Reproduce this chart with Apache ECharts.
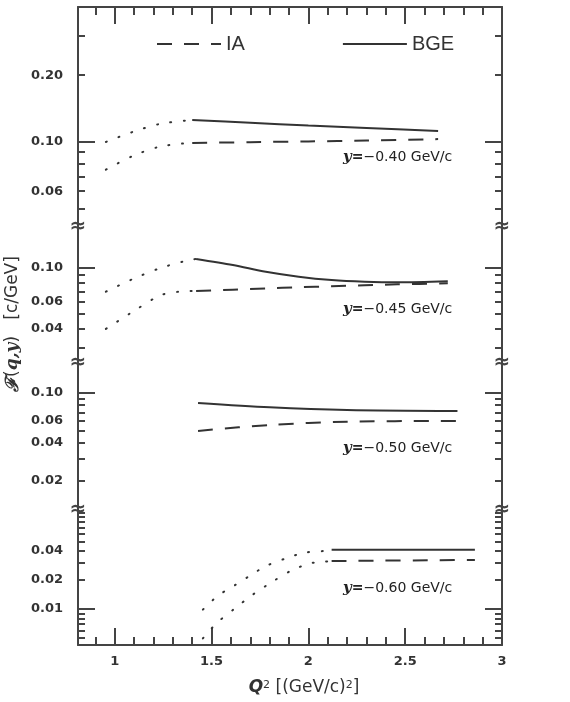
<!DOCTYPE html>
<html>
<head>
<meta charset="utf-8">
<title>F(q,y) vs Q2</title>
<script src="https://cdn.jsdelivr.net/npm/echarts@6/dist/echarts.min.js"></script>
<style>
  html, body { margin: 0; padding: 0; background: #fff; }
  #scaling_chart { width: 570px; height: 702px; }
</style>
</head>
<body>
<div id="scaling_chart"></div>
<script>
// ------------------------------
// Data
// ------------------------------

// x axis ticks, Q^2 in (GeV/c)^2
var q2Ticks = [1, 1.5, 2, 2.5, 3];
var q2MajorTicks = [1, 1.5, 2, 2.5];
var q2MinorTicks = [0.9, 1.1, 1.2, 1.3, 1.4, 1.6, 1.7, 1.8, 1.9, 2.1, 2.2, 2.3, 2.4, 2.6, 2.7, 2.8, 2.9];

// y = -0.40 GeV/c
var ticks40 = [0.06, 0.1, 0.2];
var minor40 = [0.05, 0.06, 0.07, 0.08, 0.09, 0.2, 0.3];
var q2Main40 = [1.40, 1.70, 2.00, 2.30, 2.67];
var bge40 = [0.1256, 0.1220, 0.1185, 0.1155, 0.1120];
var ia40 = [0.0990, 0.0998, 0.1006, 0.1015, 0.1030];
var q2Ext40 = [0.954, 1.093, 1.232, 1.370, 1.40];
var bgeExt40 = [0.1000, 0.1110, 0.1205, 0.1250, 0.1256];
var iaExt40 = [0.0750, 0.0865, 0.0952, 0.0988, 0.0990];

// y = -0.45 GeV/c
var ticks45 = [0.04, 0.06, 0.1];
var minor45 = [0.03, 0.04, 0.05, 0.06, 0.07, 0.08, 0.09];
var q2Main45 = [1.42, 1.61, 1.78, 1.95, 2.12, 2.29, 2.46, 2.72];
var bge45 = [0.1145, 0.1046, 0.0946, 0.0878, 0.0835, 0.0814, 0.0806, 0.0819];
var ia45 = [0.0707, 0.0722, 0.0735, 0.0748, 0.0760, 0.0772, 0.0782, 0.0794];
var q2BgeExt45 = [0.954, 1.093, 1.232, 1.376, 1.42];
var bgeExt45 = [0.0700, 0.0847, 0.0995, 0.1123, 0.1145];
var q2IaExt45 = [0.954, 1.093, 1.236, 1.33, 1.42];
var iaExt45 = [0.0400, 0.0518, 0.0663, 0.0700, 0.0707];

// y = -0.50 GeV/c
var ticks50 = [0.02, 0.04, 0.06, 0.1];
var minor50 = [0.02, 0.03, 0.04, 0.05, 0.06, 0.07, 0.08, 0.09];
var q2Main50 = [1.43, 1.80, 2.20, 2.77];
var bge50 = [0.0833, 0.0770, 0.0733, 0.0720];
var ia50 = [0.0500, 0.0557, 0.0592, 0.0600];

// y = -0.60 GeV/c
var ticks60 = [0.01, 0.02, 0.04];
var minor60 = [0.005, 0.006, 0.007, 0.008, 0.009, 0.02, 0.03, 0.04, 0.05, 0.06, 0.07, 0.08, 0.09, 0.1];
var q2Main60 = [2.12, 2.86];
var bge60 = [0.0412, 0.0412];
var ia60 = [0.0315, 0.0323];
var q2BgeExt60 = [1.455, 1.533, 1.619, 1.705, 1.782, 1.885, 1.979, 2.082, 2.12];
var bgeExt60 = [0.00986, 0.01374, 0.01758, 0.02264, 0.0280, 0.0336, 0.0384, 0.0401, 0.0412];
var q2IaExt60 = [1.455, 1.524, 1.619, 1.713, 1.816, 1.919, 2.014, 2.082, 2.12];
var iaExt60 = [0.00495, 0.00707, 0.0101, 0.0141, 0.0193, 0.0255, 0.0299, 0.0310, 0.0315];

// ------------------------------
// Chart module
// ------------------------------

var scalingChart = (function () {

  var ink = "#333";
  var frame = "#444";

  // log10 of each pair so a value axis works as a log axis
  var logPairs = function (xs, ys) {
    return xs.map(function (x, k) { return [x, Math.log10(ys[k])]; });
  };
  var logs = function (vals) {
    return vals.map(function (v) { return Math.log10(v); });
  };

  // panel layout (pixels) and y ranges
  var panels = [
    { top: 7, height: 220, range: [0.0414, 0.4055], major: [0.1], minor: minor40, labels: ticks40, text: "\u22120.40 GeV/c", textY: 157,
      curves: [[q2Main40, bge40, "BGE", "solid"], [q2Main40, ia40, "IA", "dashed"], [q2Ext40, bgeExt40, "ext", "dotted"], [q2Ext40, iaExt40, "ext", "dotted"]] },
    { top: 227, height: 136, range: [0.02394, 0.1853], major: [0.1], minor: minor45, labels: ticks45, text: "\u22120.45 GeV/c", textY: 309,
      curves: [[q2Main45, bge45, "BGE", "solid"], [q2Main45, ia45, "IA", "dashed"], [q2BgeExt45, bgeExt45, "ext", "dotted"], [q2IaExt45, iaExt45, "ext", "dotted"]] },
    { top: 363, height: 147, range: [0.01178, 0.173], major: [0.1], minor: minor50, labels: ticks50, text: "\u22120.50 GeV/c", textY: 448,
      curves: [[q2Main50, bge50, "BGE", "solid"], [q2Main50, ia50, "IA", "dashed"]] },
    { top: 510, height: 135, range: [0.00423, 0.1066], major: [0.01], minor: minor60, labels: ticks60, text: "\u22120.60 GeV/c", textY: 588,
      curves: [[q2Main60, bge60, "BGE", "solid"], [q2Main60, ia60, "IA", "dashed"], [q2BgeExt60, bgeExt60, "ext", "dotted"], [q2IaExt60, iaExt60, "ext", "dotted"]] }
  ];

  var lineTypes = {
    solid: "solid",
    dashed: [15, 12],
    dotted: [1, 12.5]
  };

  var buildOption = function () {
    var grids = [], xAxes = [], yAxes = [], series = [], graphics = [];
    var xIndexOf = [];

    panels.forEach(function (p, i) {
      grids.push({ left: 78, right: 68, top: p.top, height: p.height, containLabel: false, outerBoundsMode: "none" });

      // x axes: top frame on first panel, bottom frame on last
      var xBase = { gridIndex: i, type: "value", min: 0.81, max: 3, splitLine: { show: false } };
      if (i === 0 || i === panels.length - 1) {
        var pos = i === 0 ? "top" : "bottom";
        xIndexOf.push(xAxes.length);
        xAxes.push(Object.assign({}, xBase, {
          position: pos,
          axisLine: { show: true, lineStyle: { color: frame, width: 2 } },
          axisTick: { show: true, inside: true, length: 17, customValues: q2MajorTicks, lineStyle: { color: frame, width: 2 } },
          axisLabel: pos === "bottom"
            ? { show: true, customValues: q2Ticks, margin: 10, color: ink, fontFamily: "DejaVu Sans", fontWeight: "bold", fontSize: 13 }
            : { show: false }
        }));
        xAxes.push(Object.assign({}, xBase, {
          position: pos,
          axisLine: { show: false },
          axisTick: { show: true, inside: true, length: 8, customValues: q2MinorTicks, lineStyle: { color: frame, width: 2 } },
          axisLabel: { show: false }
        }));
      } else {
        xIndexOf.push(xAxes.length);
        xAxes.push(Object.assign({}, xBase, { show: false }));
      }

      // y axes: left/right, long ticks + short ticks
      var lo = Math.log10(p.range[0]), hi = Math.log10(p.range[1]);
      ["left", "right"].forEach(function (side) {
        var yBase = { gridIndex: i, type: "value", position: side, min: lo, max: hi, splitLine: { show: false } };
        yAxes.push(Object.assign({}, yBase, {
          axisLine: { show: true, lineStyle: { color: frame, width: 2 } },
          axisTick: { show: true, inside: true, length: 17, customValues: logs(p.major), lineStyle: { color: frame, width: 2 } },
          axisLabel: { show: false }
        }));
        yAxes.push(Object.assign({}, yBase, {
          axisLine: { show: false },
          axisTick: { show: true, inside: true, length: 7, customValues: logs(p.minor), lineStyle: { color: frame, width: 2 } },
          axisLabel: side === "left"
            ? {
                show: true, customValues: logs(p.labels), margin: 15, color: ink,
                fontFamily: "DejaVu Sans", fontWeight: "bold", fontSize: 13,
                formatter: function (v) { return Math.pow(10, v).toFixed(2); }
              }
            : { show: false }
        }));
      });

      // curves
      p.curves.forEach(function (c) {
        series.push({
          name: c[2],
          type: "line",
          xAxisIndex: xIndexOf[i],
          yAxisIndex: i * 4,
          data: logPairs(c[0], c[1]),
          smooth: 0.3,
          symbol: "none",
          showSymbol: false,
          silent: true,
          itemStyle: { color: ink },
          lineStyle: { color: ink, width: 2, type: lineTypes[c[3]], cap: c[3] === "dotted" ? "round" : "butt" }
        });
      });

      // panel label
      graphics.push({
        type: "text",
        x: 343, y: p.textY,
        style: {
          text: "{y|y}{eq|=}{t|" + p.text + "}",
          textVerticalAlign: "middle",
          rich: {
            y: { font: "italic bold 15px 'DejaVu Serif'", fill: "#222" },
            eq: { font: "bold 14px 'DejaVu Sans'", fill: "#222" },
            t: { font: "14px 'DejaVu Sans'", fill: "#222" }
          }
        }
      });
    });

    // axis break marks
    [227, 363, 510].forEach(function (y) {
      [78, 502].forEach(function (x) {
        graphics.push({
          type: "text", x: x, y: y, z: 10,
          style: { text: "\u2248", font: "bold 20px 'DejaVu Sans'", fill: frame, textAlign: "center", textVerticalAlign: "middle" }
        });
      });
    });

    // axis titles
    graphics.push({
      type: "text", x: 13, y: 324, rotation: Math.PI / 2,
      style: {
        text: "{f|\u2131}{n|(}{i|q,y}{n|)}{n|   [c/GeV]}",
        textAlign: "center", textVerticalAlign: "middle",
        rich: {
          f: { font: "italic bold 18px 'DejaVu Serif'", fill: ink },
          i: { font: "italic bold 17px 'DejaVu Serif'", fill: ink },
          n: { font: "17px 'DejaVu Sans'", fill: ink }
        }
      }
    });
    graphics.push({
      type: "text", x: 304, y: 688,
      style: {
        text: "{q|Q}{s|2}{n| [(GeV/c)}{s|2}{n|]}",
        textAlign: "center", textVerticalAlign: "middle",
        rich: {
          q: { font: "italic bold 17px 'DejaVu Sans'", fill: ink },
          s: { font: "11px 'DejaVu Sans'", fill: ink, verticalAlign: "top" },
          n: { font: "17px 'DejaVu Sans'", fill: ink }
        }
      }
    });

    return {
      animation: false,
      backgroundColor: "#fff",
      grid: grids,
      xAxis: xAxes,
      yAxis: yAxes,
      legend: {
        data: ["IA", "BGE"],
        left: 151,
        top: 29,
        itemWidth: 64,
        itemHeight: 14,
        itemGap: 97,
        selectedMode: false,
        itemStyle: { opacity: 0 },
        textStyle: { color: ink, fontFamily: "Liberation Sans", fontSize: 20 }
      },
      graphic: graphics,
      series: series
    };
  };

  var initChart = function () {
    if (typeof echarts == "undefined") {
      console.warn("Warning - echarts.min.js is not loaded.");
      return;
    }
    var el = document.getElementById("scaling_chart");
    if (!el) return;
    var chart = echarts.init(el, null, { renderer: "canvas" });
    chart.setOption(buildOption());

    window.addEventListener("resize", function () { chart.resize(); });
  };

  return {
    init: function () { initChart(); }
  };
})();

document.addEventListener("DOMContentLoaded", function () {
  scalingChart.init();
});
</script>
</body>
</html>
